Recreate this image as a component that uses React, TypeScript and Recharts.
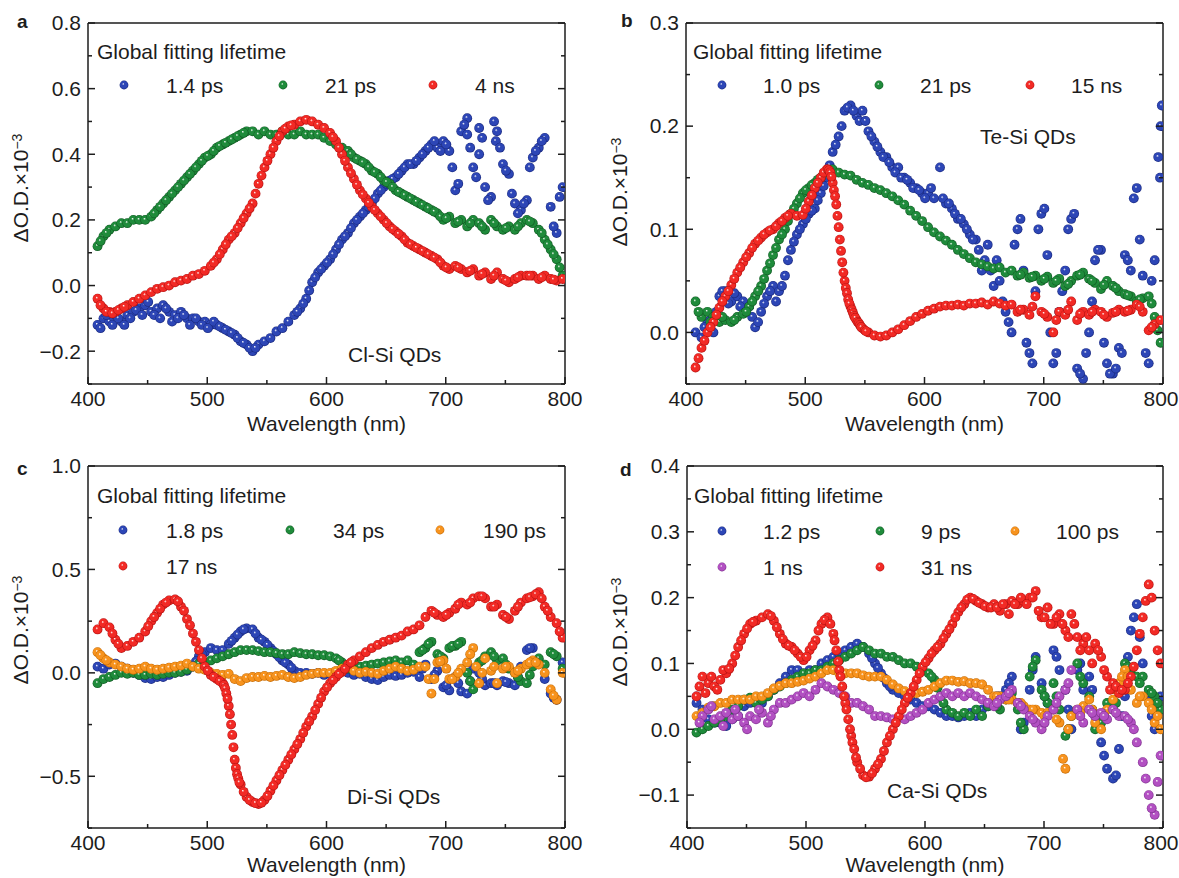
import React from 'react'
import { ScatterChart, Scatter, XAxis, YAxis } from 'recharts'

const FONT = '"Liberation Sans", Arial, Helvetica, sans-serif'
const INK = '#1d1d1d'
const FS = 21
const R = 4.9

// sampled wavelengths (nm), shared by all four panels
const wavelength = [
  408, 413, 418, 423, 428, 433, 438, 443, 448, 453,
  458, 463, 468, 473, 478, 483, 488, 493, 498, 503,
  508, 513, 518, 523, 528, 533, 538, 543, 548, 553,
  558, 563, 568, 573, 578, 583, 588, 593, 598, 603,
  608, 613, 618, 623, 628, 633, 638, 643, 648, 653,
  658, 663, 668, 673, 678, 683, 688, 693, 698, 703,
  708, 713, 718, 723, 728, 733, 738, 743, 748, 753,
  758, 763, 768, 773, 778, 783, 788, 793, 798,
]

const xTicks = [400, 450, 500, 550, 600, 650, 700, 750, 800]
const xMajor = [400, 500, 600, 700, 800]

// a: Cl-Si QDs
const clNames = ['1.4 ps', '21 ps', '4 ns']
const clBlue = [
  -0.12, -0.10, -0.11, -0.09, -0.11, -0.09, -0.08, -0.07, -0.06, -0.08,
  -0.07, -0.06, -0.08, -0.09, -0.08, -0.10, -0.10, -0.11, -0.11, -0.12,
  -0.12, -0.13, -0.14, -0.15, -0.17, -0.18, -0.20, -0.18, -0.17, -0.16,
  -0.14, -0.13, -0.11, -0.09, -0.07, -0.04, 0.01, 0.04, 0.06, 0.08,
  0.11, 0.14, 0.16, 0.19, 0.21, 0.23, 0.25, 0.28, 0.30, 0.32,
  0.33, 0.35, 0.37, 0.37, 0.39, 0.41, 0.43, 0.42, 0.44, 0.41,
  0.29, 0.47, 0.51, 0.36, 0.48, 0.30, 0.27, 0.47, 0.37, 0.34,
  0.25, 0.23, 0.26, 0.39, 0.42, 0.45, 0.24, 0.16, 0.30,
]
const clBlueFill = [
  [410.5, -0.13], [415.5, -0.09], [420.5, -0.12], [425.5, -0.1], [430.5, -0.12],
  [435.5, -0.1], [440.5, -0.075], [445.5, -0.09], [450.5, -0.05], [455.5, -0.09],
  [460.5, -0.1], [465.5, -0.07], [470.5, -0.11], [475.5, -0.1], [480.5, -0.09],
  [485.5, -0.12], [490.5, -0.1], [495.5, -0.12], [500.5, -0.13], [505.5, -0.11],
  [510.5, -0.125], [515.5, -0.135], [520.5, -0.145],
  [525.5, -0.16], [530.5, -0.175], [535.5, -0.19], [540.5, -0.19],
  [575.5, -0.08], [580.5, -0.055], [585.5, -0.015], [590.5, 0.025], [595.5, 0.05],
  [600.5, 0.07], [605.5, 0.095], [610.5, 0.125], [615.5, 0.15], [620.5, 0.175],
  [625.5, 0.2], [630.5, 0.22], [635.5, 0.24], [640.5, 0.265], [645.5, 0.29],
  [650.5, 0.31], [655.5, 0.325], [660.5, 0.34], [665.5, 0.36], [670.5, 0.37],
  [675.5, 0.38], [680.5, 0.4], [685.5, 0.42], [690.5, 0.44], [695.5, 0.41],
  [700.5, 0.43], [705.5, 0.36], [710.5, 0.31], [715.5, 0.49], [718, 0.46],
  [720.5, 0.42], [725.5, 0.33], [728, 0.4], [730.5, 0.45], [735.5, 0.26],
  [740.5, 0.5], [742, 0.44], [745.5, 0.42], [750.5, 0.35], [755.5, 0.28],
  [760.5, 0.22], [765.5, 0.25], [770.5, 0.36], [775.5, 0.41], [780.5, 0.44],
  [790.5, 0.18], [795.5, 0.27],
]
const clGreen = [
  0.12, 0.15, 0.17, 0.18, 0.19, 0.19, 0.20, 0.20, 0.20, 0.21,
  0.23, 0.25, 0.27, 0.29, 0.31, 0.33, 0.35, 0.37, 0.39, 0.40,
  0.42, 0.43, 0.44, 0.45, 0.46, 0.47, 0.47, 0.46, 0.47, 0.46,
  0.46, 0.47, 0.46, 0.46, 0.47, 0.46, 0.46, 0.46, 0.45, 0.44,
  0.43, 0.42, 0.41, 0.39, 0.38, 0.37, 0.35, 0.34, 0.32, 0.31,
  0.29, 0.28, 0.27, 0.26, 0.25, 0.24, 0.23, 0.22, 0.20, 0.21,
  0.19, 0.20, 0.18, 0.20, 0.19, 0.17, 0.20, 0.18, 0.17, 0.18,
  0.17, 0.19, 0.20, 0.19, 0.17, 0.14, 0.11, 0.08, 0.03,
]
const clGreenFill = [
  [410.5, 0.135], [415.5, 0.16], [455.5, 0.22], [460.5, 0.24], [465.5, 0.26],
  [470.5, 0.28], [475.5, 0.3], [480.5, 0.32], [485.5, 0.34], [490.5, 0.36],
  [495.5, 0.38], [500.5, 0.395], [505.5, 0.41], [510.5, 0.425], [515.5, 0.435],
  [520.5, 0.445], [525.5, 0.455], [530.5, 0.465], [620.5, 0.4], [625.5, 0.385],
  [630.5, 0.375], [635.5, 0.36], [640.5, 0.345], [645.5, 0.33], [650.5, 0.315],
  [655.5, 0.3], [660.5, 0.285], [665.5, 0.275], [670.5, 0.265], [675.5, 0.255],
  [680.5, 0.245], [685.5, 0.235], [690.5, 0.225], [695.5, 0.21], [700.5, 0.205],
  [710.5, 0.195], [720.5, 0.19], [730.5, 0.18], [740.5, 0.19], [750.5, 0.175],
  [760.5, 0.18], [770.5, 0.195], [780.5, 0.16], [785.5, 0.125], [790.5, 0.095],
  [795.5, 0.055],
]
const clRed = [
  -0.04, -0.07, -0.08, -0.08, -0.07, -0.06, -0.05, -0.04, -0.03, -0.02,
  -0.01, -0.005, 0.0, 0.01, 0.015, 0.02, 0.03, 0.035, 0.045, 0.06,
  0.08, 0.11, 0.14, 0.16, 0.19, 0.22, 0.25, 0.31, 0.36, 0.40,
  0.44, 0.47, 0.485, 0.49, 0.50, 0.505, 0.50, 0.49, 0.48, 0.465,
  0.44, 0.40, 0.36, 0.325, 0.29, 0.265, 0.24, 0.22, 0.20, 0.18,
  0.165, 0.15, 0.13, 0.12, 0.11, 0.10, 0.09, 0.08, 0.06, 0.05,
  0.06, 0.05, 0.04, 0.05, 0.03, 0.04, 0.02, 0.04, 0.02, 0.01,
  0.02, 0.03, 0.03, 0.03, 0.02, 0.03, 0.02, 0.015, 0.02,
]
const clRedFill = [
  [410.5, -0.06], [415.5, -0.08], [420.5, -0.085], [425.5, -0.075], [430.5, -0.065],
  [505.5, 0.07], [510.5, 0.095], [515.5, 0.125], [520.5, 0.15], [525.5, 0.175],
  [530.5, 0.205], [535.5, 0.235], [540.5, 0.28], [545.5, 0.335], [550.5, 0.38],
  [555.5, 0.42], [560.5, 0.455], [565.5, 0.478], [570.5, 0.488], [605.5, 0.452],
  [610.5, 0.42], [615.5, 0.38], [620.5, 0.342], [625.5, 0.307], [630.5, 0.277],
  [635.5, 0.252], [640.5, 0.23], [645.5, 0.21], [650.5, 0.19], [655.5, 0.172],
  [660.5, 0.157], [665.5, 0.14], [670.5, 0.125], [675.5, 0.115], [680.5, 0.105],
  [685.5, 0.095], [690.5, 0.085], [695.5, 0.07], [700.5, 0.055], [710.5, 0.055],
  [720.5, 0.045], [730.5, 0.035], [740.5, 0.03], [750.5, 0.015], [760.5, 0.025],
  [770.5, 0.03], [780.5, 0.025], [790.5, 0.018],
]
const yTicksA = [-0.3, -0.2, -0.1, 0, 0.1, 0.2, 0.3, 0.4, 0.5, 0.6, 0.7, 0.8]
const yMajorA = [-0.2, 0, 0.2, 0.4, 0.6, 0.8]

// b: Te-Si QDs
const teNames = ['1.0 ps', '21 ps', '15 ns']
const teBlue = [
  0.0, -0.005, 0.01, 0.0, 0.035, 0.04, 0.03, 0.035, 0.03, 0.025,
  0.005, 0.02, 0.035, 0.045, 0.04, 0.055, 0.08, 0.095, 0.105, 0.115,
  0.12, 0.135, 0.15, 0.175, 0.19, 0.215, 0.22, 0.21, 0.215, 0.195,
  0.185, 0.175, 0.17, 0.16, 0.16, 0.15, 0.145, 0.14, 0.135, 0.135,
  0.13, 0.16, 0.125, 0.12, 0.11, 0.105, 0.095, 0.09, 0.06, 0.085,
  0.045, 0.05, 0.02, 0.0, 0.10, 0.06, -0.02, 0.04, 0.115, 0.075,
  -0.03, 0.02, 0.06, 0.11, -0.035, -0.045, 0.0, 0.07, 0.08, -0.03,
  -0.04, -0.015, 0.075, 0.06, 0.14, 0.055, -0.03, 0.07, 0.2,
]
const teBlueFill = [
  [415.5, 0.005], [420.5, 0.012], [425.5, 0.02], [430.5, 0.04], [435.5, 0.028],
  [440.5, 0.038], [445.5, 0.025], [450.5, 0.02], [455.5, 0.015], [460.5, 0.01],
  [465.5, 0.028], [470.5, 0.04], [475.5, 0.03], [480.5, 0.045], [485.5, 0.07],
  [490.5, 0.088], [495.5, 0.1], [500.5, 0.11], [505.5, 0.118], [510.5, 0.128],
  [515.5, 0.142], [520.5, 0.162], [525.5, 0.182], [530.5, 0.2], [535.5, 0.218],
  [540.5, 0.215], [545.5, 0.205], [550.5, 0.205], [555.5, 0.19], [560.5, 0.18],
  [565.5, 0.17], [570.5, 0.165], [575.5, 0.155], [580.5, 0.15], [585.5, 0.148],
  [590.5, 0.14], [595.5, 0.138], [600.5, 0.13], [605.5, 0.14], [615.5, 0.13],
  [620.5, 0.125], [625.5, 0.115], [630.5, 0.11], [635.5, 0.1], [640.5, 0.09],
  [645.5, 0.08], [650.5, 0.07], [655.5, 0.06], [660.5, 0.07], [665.5, 0.03],
  [670.5, 0.01], [675.5, 0.085], [680.5, 0.11], [685.5, -0.01], [690.5, -0.03],
  [695.5, 0.1], [700.5, 0.12], [705.5, 0.0], [710.5, -0.02], [715.5, 0.04],
  [720.5, 0.1], [725.5, 0.115], [730.5, -0.04], [735.5, -0.02], [740.5, 0.03],
  [745.5, 0.08], [750.5, -0.01], [755.5, -0.04], [760.5, -0.035], [765.5, -0.02],
  [770.5, 0.07], [775.5, 0.13], [780.5, 0.09], [785.5, -0.02], [790.5, 0.05],
  [796, 0.17], [797.5, 0.15], [799, 0.22],
]
const teGreen = [
  0.03, 0.015, 0.02, 0.015, 0.01, 0.012, 0.01, 0.015, 0.018, 0.025,
  0.035, 0.045, 0.06, 0.075, 0.09, 0.10, 0.115, 0.125, 0.135, 0.14,
  0.145, 0.15, 0.155, 0.158, 0.155, 0.153, 0.152, 0.148, 0.145, 0.143,
  0.14, 0.138, 0.135, 0.132, 0.128, 0.124, 0.118, 0.113, 0.108, 0.102,
  0.097, 0.093, 0.089, 0.085, 0.08, 0.076, 0.072, 0.068, 0.066, 0.064,
  0.062, 0.063, 0.058, 0.06, 0.055, 0.058, 0.053, 0.055, 0.05, 0.054,
  0.048, 0.052, 0.045, 0.05, 0.055, 0.058, 0.052, 0.048, 0.042, 0.05,
  0.045, 0.04, 0.037, 0.035, 0.03, 0.033, 0.035, 0.015, -0.01,
]
const teGreenFill = [
  [410.5, 0.02], [420.5, 0.01], [430.5, 0.015], [440.5, 0.012], [450.5, 0.02],
  [455.5, 0.03], [460.5, 0.04], [465.5, 0.052], [470.5, 0.067], [475.5, 0.082],
  [480.5, 0.095], [485.5, 0.108], [490.5, 0.12], [495.5, 0.13], [500.5, 0.138],
  [505.5, 0.143], [510.5, 0.148], [680.5, 0.056], [690.5, 0.054], [700.5, 0.052],
  [710.5, 0.05], [720.5, 0.047], [730.5, 0.056], [740.5, 0.05], [750.5, 0.046],
  [760.5, 0.043], [770.5, 0.036], [780.5, 0.032], [790.5, 0.028], [795.5, 0.002],
]
const teRed = [
  -0.034, -0.015, 0.0, 0.01, 0.024, 0.035, 0.046, 0.058, 0.068, 0.077,
  0.086, 0.092, 0.097, 0.1, 0.106, 0.111, 0.115, 0.113, 0.114, 0.127,
  0.14, 0.15, 0.158, 0.145, 0.102, 0.05, 0.025, 0.012, 0.004, 0.0,
  -0.003, -0.004, -0.003, 0.0, 0.003, 0.007, 0.011, 0.015, 0.018, 0.021,
  0.023, 0.025, 0.026, 0.026, 0.027, 0.026, 0.028, 0.028, 0.029, 0.027,
  0.03, 0.028, 0.026, 0.027, 0.02, 0.022, 0.017, 0.035, 0.02, 0.015,
  0.0, 0.02, 0.017, 0.03, 0.012, 0.02, 0.017, 0.022, 0.02, 0.015,
  0.019, 0.022, 0.02, 0.022, 0.027, 0.02, 0.002, 0.008, 0.012,
]
const teRedFill = [
  [410.5, -0.025], [415.5, -0.008], [420.5, 0.005], [425.5, 0.017], [430.5, 0.03],
  [435.5, 0.04], [440.5, 0.052], [445.5, 0.063], [450.5, 0.073], [455.5, 0.082],
  [460.5, 0.089], [465.5, 0.095], [470.5, 0.099], [475.5, 0.103], [480.5, 0.108],
  [485.5, 0.113], [500.5, 0.12], [505.5, 0.133], [510.5, 0.145], [515.5, 0.155],
  [519, 0.158], [520, 0.157], [521, 0.155], [522, 0.151], [524, 0.138], [525, 0.132],
  [526, 0.124], [527, 0.113], [529, 0.09], [530, 0.079], [531, 0.068], [532, 0.058],
  [534, 0.043], [535, 0.038], [536, 0.032], [537, 0.028], [539, 0.022], [540, 0.019],
  [541, 0.016], [542, 0.014], [544, 0.01], [545, 0.009], [546, 0.007], [547, 0.005],
  [550, 0.002], [551, 0.001], [680.5, 0.022], [690.5, 0.025], [700.5, 0.018],
  [710.5, 0.012], [720.5, 0.022], [730.5, 0.018], [740.5, 0.02], [750.5, 0.017],
  [760.5, 0.02], [770.5, 0.021], [780.5, 0.025], [790.5, 0.005],
]
const yTicksB = [-0.05, 0, 0.05, 0.1, 0.15, 0.2, 0.25, 0.3]
const yMajorB = [0, 0.1, 0.2, 0.3]

// c: Di-Si QDs
const diNames = ['1.8 ps', '34 ps', '190 ps', '17 ns']
const diBlue = [
  0.03, 0.02, 0.04, 0.045, 0.03, 0.02, 0.0, -0.01, -0.025, -0.03,
  -0.02, -0.02, -0.01, 0.0, 0.005, 0.01, 0.03, 0.08, 0.10, 0.12,
  0.11, 0.11, 0.14, 0.17, 0.2, 0.215, 0.21, 0.17, 0.15, 0.12,
  0.09, 0.06, 0.04, 0.01, 0.0, 0.0, -0.005, 0.0, -0.01, -0.005,
  0.0, 0.005, 0.0, -0.01, -0.005, -0.02, -0.03, -0.035, -0.02, -0.01,
  -0.015, -0.01, 0.0, 0.005, -0.02, 0.04, -0.03, 0.01, -0.07, -0.085,
  -0.02, -0.09, -0.1, 0.02, 0.0, -0.06, -0.05, -0.06, -0.04, -0.05,
  -0.06, 0.03, 0.11, 0.12, 0.06, -0.03, -0.1, -0.13, 0.05,
]
const diBlueFill = [
  [490.5, 0.055], [495.5, 0.09], [520.5, 0.155], [525.5, 0.185], [530.5, 0.21],
  [540.5, 0.19], [545.5, 0.16], [550.5, 0.135], [555.5, 0.105], [560.5, 0.075],
  [565.5, 0.05], [570.5, 0.025], [680.5, 0.02], [690.5, -0.01], [700.5, -0.06],
  [710.5, -0.05], [720.5, -0.04], [730.5, -0.03], [740.5, -0.05], [750.5, -0.045],
  [760.5, -0.02], [770.5, 0.12], [790.5, -0.12],
]
const diGreen = [
  -0.05, -0.03, -0.02, -0.01, 0.0, -0.005, 0.0, -0.01, -0.01, -0.005,
  -0.01, -0.005, 0.0, 0.0, 0.005, 0.015, 0.03, 0.045, 0.05, 0.06,
  0.07, 0.08, 0.09, 0.1, 0.11, 0.11, 0.11, 0.105, 0.1, 0.1,
  0.095, 0.09, 0.09, 0.1, 0.095, 0.09, 0.09, 0.085, 0.085, 0.08,
  0.07, 0.05, 0.02, 0.02, 0.03, 0.035, 0.04, 0.045, 0.05, 0.055,
  0.06, 0.05, 0.06, 0.04, 0.1, 0.12, 0.15, 0.09, 0.07, 0.12,
  0.13, 0.15, 0.0, -0.08, 0.05, 0.08, 0.1, 0.06, 0.07, 0.02,
  0.0, -0.04, -0.05, 0.03, 0.07, 0.04, 0.1, 0.08, 0.02,
]
const diGreenFill = [
  [610.5, 0.06], [615.5, 0.035], [680.5, 0.11], [685.5, 0.14], [695.5, 0.08],
  [705.5, 0.13], [710.5, 0.14], [720.5, -0.04], [730.5, 0.06], [740.5, 0.08],
  [750.5, 0.04], [760.5, -0.02], [770.5, -0.01], [775.5, 0.05], [790.5, 0.09],
]
const diOrange = [
  0.1, 0.07, 0.05, 0.04, 0.03, 0.02, 0.015, 0.02, 0.03, 0.02,
  0.015, 0.02, 0.025, 0.03, 0.035, 0.045, 0.03, 0.02, 0.015, 0.0,
  -0.005, -0.01, -0.005, -0.03, -0.04, -0.025, -0.02, -0.02, -0.015, -0.02,
  -0.015, -0.01, -0.02, -0.025, -0.02, -0.01, -0.005, 0.0, 0.0, 0.0,
  0.01, 0.02, 0.03, 0.01, 0.0, 0.005, 0.0, -0.005, 0.01, 0.02,
  0.03, 0.02, 0.01, 0.015, 0.03, 0.03, -0.1, 0.05, 0.06, -0.03,
  -0.02, 0.02, 0.05, 0.12, -0.05, 0.07, 0.01, -0.05, 0.02, 0.03,
  0.0, 0.02, 0.04, 0.06, 0.04, 0.0, -0.08, -0.13, 0.0,
]
const diOrangeFill = [
  [410.5, 0.085], [415.5, 0.06], [685.5, -0.03], [690.5, -0.03], [695.5, 0.055],
  [700.5, 0.02], [705.5, -0.03], [710.5, 0.0], [720.5, 0.09], [725.5, 0.03],
  [730.5, 0.0], [740.5, 0.03], [750.5, 0.03], [760.5, 0.01], [770.5, 0.05],
  [775.5, 0.05], [790.5, -0.11],
]
const diRed = [
  0.21, 0.24, 0.22, 0.16, 0.12, 0.13, 0.15, 0.17, 0.2, 0.25,
  0.29, 0.33, 0.35, 0.355, 0.32, 0.26, 0.19, 0.11, 0.03, -0.01,
  -0.03, -0.05, -0.16, -0.42, -0.54, -0.6, -0.625, -0.634, -0.615, -0.57,
  -0.52, -0.47, -0.42, -0.37, -0.32, -0.26, -0.21, -0.15, -0.09, -0.05,
  -0.02, 0.005, 0.04, 0.06, 0.08, 0.1, 0.12, 0.135, 0.15, 0.16,
  0.17, 0.18, 0.2, 0.21, 0.23, 0.27, 0.3, 0.28, 0.27, 0.29,
  0.31, 0.34, 0.33, 0.36, 0.37, 0.36, 0.32, 0.33, 0.28, 0.26,
  0.3, 0.34, 0.36, 0.37, 0.39, 0.32, 0.27, 0.24, 0.17,
]
const diRedFill = [
  [420.5, 0.19], [425.5, 0.14], [450.5, 0.225], [455.5, 0.27], [460.5, 0.31],
  [465.5, 0.34], [475.5, 0.345], [480.5, 0.3], [485.5, 0.23], [490.5, 0.15],
  [495.5, 0.07], [500.5, 0.01], [505.5, -0.02], [510.5, -0.04], [514, -0.06],
  [515, -0.075], [516, -0.1], [517, -0.125], [519, -0.2], [520, -0.25], [521, -0.3],
  [522, -0.36], [524, -0.46], [525, -0.49], [526, -0.51], [527, -0.53], [530.5, -0.575],
  [535.5, -0.615], [540.5, -0.63], [545.5, -0.628], [550.5, -0.595], [555.5, -0.545],
  [560.5, -0.495], [565.5, -0.445], [570.5, -0.395], [575.5, -0.345], [580.5, -0.29],
  [585.5, -0.235], [590.5, -0.18], [595.5, -0.12], [600.5, -0.07], [605.5, -0.035],
  [610.5, -0.005], [615.5, 0.02], [620.5, 0.05], [690.5, 0.29], [700.5, 0.28],
  [710.5, 0.33], [720.5, 0.34], [730.5, 0.37], [740.5, 0.32], [750.5, 0.27],
  [760.5, 0.32], [770.5, 0.365], [775.5, 0.38], [780.5, 0.36], [785.5, 0.3],
  [795.5, 0.2],
]
const yTicksC = [-0.75, -0.5, -0.25, 0, 0.25, 0.5, 0.75, 1.0]
const yMajorC = [-0.5, 0, 0.5, 1.0]

// d: Ca-Si QDs
const caNames = ['1.2 ps', '9 ps', '100 ps', '1 ns', '31 ns']
const caBlue = [
  0.04, 0.03, 0.015, 0.01, 0.01, 0.005, 0.015, 0.02, 0.035, 0.04,
  0.045, 0.04, 0.05, 0.06, 0.07, 0.08, 0.09, 0.09, 0.085, 0.09,
  0.09, 0.1, 0.105, 0.11, 0.115, 0.12, 0.125, 0.13, 0.125, 0.115,
  0.1, 0.085, 0.07, 0.06, 0.055, 0.05, 0.045, 0.04, 0.035, 0.035,
  0.03, 0.025, 0.02, 0.02, 0.018, 0.02, 0.025, 0.02, 0.03, 0.035,
  0.04, 0.05, 0.06, 0.08, 0.04, 0.01, 0.06, 0.11, 0.07, 0.04,
  0.12, 0.09, 0.06, 0.0, 0.09, 0.06, 0.08, 0.02, -0.02, -0.06,
  -0.075, -0.03, 0.05, 0.15, 0.19, 0.1, 0.05, 0.0, 0.05,
]
const caBlueFill = [
  [555.5, 0.108], [560.5, 0.093], [565.5, 0.078], [570.5, 0.065], [660.5, 0.05],
  [670.5, 0.07], [680.5, 0.0], [690.5, 0.09], [700.5, 0.05], [710.5, 0.11],
  [720.5, 0.03], [730.5, 0.1], [740.5, 0.06], [750.5, -0.04], [760.5, -0.07],
  [765.5, 0.02], [770.5, 0.11], [775.5, 0.17], [780.5, 0.14], [790.5, 0.02],
  [795.5, 0.03],
]
const caGreen = [
  -0.005, 0.0, 0.005, 0.01, 0.015, 0.02, 0.03, 0.035, 0.045, 0.048,
  0.04, 0.045, 0.05, 0.06, 0.065, 0.07, 0.075, 0.08, 0.085, 0.085,
  0.09, 0.09, 0.095, 0.1, 0.105, 0.11, 0.115, 0.12, 0.125, 0.12,
  0.115, 0.115, 0.11, 0.11, 0.105, 0.1, 0.1, 0.095, 0.09, 0.085,
  0.075, 0.05, 0.03, 0.025, 0.02, 0.025, 0.02, 0.03, 0.02, 0.035,
  0.04, 0.03, 0.045, 0.055, 0.03, 0.0, 0.08, 0.105, 0.06, 0.04,
  0.07, 0.03, -0.01, 0.02, 0.1, 0.07, 0.05, 0.0, 0.01, 0.04,
  0.03, 0.06, 0.1, 0.09, 0.08, 0.08, 0.06, 0.05, 0.03,
]
const caGreenFill = [
  [605.5, 0.08], [610.5, 0.063], [615.5, 0.04], [660.5, 0.035], [670.5, 0.05],
  [680.5, 0.01], [690.5, 0.095], [700.5, 0.05], [710.5, 0.05], [720.5, 0.0],
  [730.5, 0.08], [740.5, 0.03], [750.5, 0.02], [760.5, 0.04], [770.5, 0.095],
  [780.5, 0.07], [790.5, 0.055], [795.5, 0.04],
]
const caOrange = [
  0.02, 0.025, 0.033, 0.035, 0.04, 0.04, 0.045, 0.045, 0.045, 0.045,
  0.05, 0.05, 0.055, 0.062, 0.066, 0.07, 0.07, 0.072, 0.074, 0.077,
  0.08, 0.085, 0.09, 0.09, 0.085, 0.085, 0.085, 0.085, 0.082, 0.08,
  0.08, 0.08, 0.075, 0.068, 0.062, 0.058, 0.054, 0.055, 0.057, 0.06,
  0.065, 0.07, 0.074, 0.074, 0.072, 0.073, 0.07, 0.07, 0.068, 0.06,
  0.05, 0.05, 0.045, 0.045, 0.04, 0.035, 0.03, 0.03, 0.025, 0.025,
  0.03, 0.01, -0.06, 0.02, 0.03, 0.035, 0.045, 0.01, 0.0, 0.03,
  0.045, 0.07, 0.09, 0.06, 0.04, 0.05, 0.04, 0.01, 0.0,
]
const caOrangeFill = [
  [660.5, 0.05], [670.5, 0.045], [680.5, 0.04], [690.5, 0.03], [700.5, 0.02],
  [710.5, 0.015], [716, -0.045], [720.5, 0.0], [730.5, 0.025], [740.5, 0.03],
  [750.5, 0.02], [760.5, 0.06], [765.5, 0.08], [770.5, 0.08], [780.5, 0.05],
  [790.5, 0.03], [795.5, 0.02],
]
const caPurple = [
  0.05, 0.02, 0.03, 0.015, 0.02, 0.025, 0.015, 0.02, 0.01, 0.02,
  0.015, 0.025, 0.01, 0.03, 0.04, 0.04, 0.045, 0.05, 0.055, 0.05,
  0.06, 0.07, 0.065, 0.06, 0.055, 0.05, 0.04, 0.04, 0.035, 0.03,
  0.02, 0.02, 0.018, 0.015, 0.018, 0.015, 0.02, 0.025, 0.03, 0.04,
  0.045, 0.05, 0.055, 0.05, 0.055, 0.05, 0.055, 0.05, 0.045, 0.04,
  0.035, 0.045, 0.05, 0.06, 0.04, 0.03, 0.02, 0.01, 0.0, 0.02,
  0.03, 0.05, 0.06, 0.09, 0.03, 0.01, 0.03, 0.02, 0.025, 0.015,
  0.03, 0.02, 0.02, 0.01, -0.02, -0.05, -0.1, -0.13, -0.04,
]
const caPurpleFill = [
  [410.5, 0.01], [420.5, 0.035], [430.5, 0.005], [440.5, 0.03], [450.5, 0.0],
  [460.5, 0.03], [470.5, 0.02], [660.5, 0.04], [670.5, 0.055], [680.5, 0.035],
  [690.5, 0.015], [700.5, 0.01], [710.5, 0.04], [720.5, 0.07], [730.5, 0.02],
  [740.5, 0.025], [750.5, 0.02], [760.5, 0.025], [770.5, 0.015], [775.5, 0.0],
  [785.5, -0.075], [790.5, -0.12], [795.5, -0.08],
]
const caRed = [
  0.05, 0.08, 0.07, 0.065, 0.075, 0.085, 0.1, 0.125, 0.145, 0.16,
  0.165, 0.17, 0.175, 0.165, 0.145, 0.13, 0.125, 0.115, 0.105, 0.12,
  0.135, 0.16, 0.17, 0.145, 0.09, 0.04, -0.01, -0.05, -0.07, -0.072,
  -0.06, -0.045, -0.02, 0.0, 0.02, 0.04, 0.055, 0.075, 0.095, 0.108,
  0.12, 0.13, 0.145, 0.16, 0.178, 0.19, 0.2, 0.195, 0.19, 0.185,
  0.19, 0.18, 0.19, 0.195, 0.19, 0.195, 0.2, 0.21, 0.17, 0.185,
  0.16, 0.175, 0.15, 0.175, 0.14, 0.13, 0.12, 0.13, 0.11, 0.08,
  0.07, 0.055, 0.06, 0.08, 0.12, 0.17, 0.22, 0.15, 0.1,
]
const caRedFill = [
  [410.5, 0.065], [415.5, 0.055], [420.5, 0.08], [425.5, 0.06],
  [430.5, 0.09], [435.5, 0.092], [440.5, 0.112], [445.5, 0.135], [450.5, 0.153],
  [455.5, 0.163], [470.5, 0.172], [475.5, 0.155], [480.5, 0.137], [485.5, 0.127],
  [490.5, 0.12], [495.5, 0.11], [500.5, 0.11], [505.5, 0.127], [510.5, 0.15],
  [515.5, 0.166], [520.5, 0.16], [524, 0.135], [525.5, 0.12], [527, 0.103], [529, 0.08],
  [530.5, 0.065], [532, 0.05], [534, 0.03], [535.5, 0.015], [537, 0.0], [539, -0.02],
  [540.5, -0.03], [542, -0.043], [545.5, -0.06], [550.5, -0.073], [555.5, -0.067],
  [560.5, -0.053], [565.5, -0.033], [570.5, -0.01], [575.5, 0.01], [580.5, 0.03],
  [585.5, 0.048], [590.5, 0.065], [595.5, 0.085], [600.5, 0.102], [605.5, 0.115],
  [610.5, 0.125], [615.5, 0.138], [620.5, 0.152], [625.5, 0.17], [630.5, 0.185],
  [635.5, 0.197], [640.5, 0.198], [645.5, 0.192], [650.5, 0.187], [655.5, 0.185],
  [660.5, 0.185], [665.5, 0.19], [670.5, 0.175], [675.5, 0.19], [680.5, 0.2],
  [685.5, 0.19], [690.5, 0.2], [695.5, 0.18], [700.5, 0.17], [705.5, 0.16],
  [710.5, 0.17], [715.5, 0.16], [720.5, 0.14], [725.5, 0.16], [730.5, 0.12],
  [735.5, 0.14], [740.5, 0.1], [745.5, 0.12], [750.5, 0.09], [755.5, 0.06],
  [760.5, 0.065], [765.5, 0.06], [770.5, 0.07], [775.5, 0.095], [780.5, 0.145],
  [785.5, 0.195], [790.5, 0.2], [795.5, 0.12],
]
const yTicksD = [-0.15, -0.1, -0.05, 0, 0.05, 0.1, 0.15, 0.2, 0.25, 0.3, 0.35, 0.4]
const yMajorD = [-0.1, 0, 0.1, 0.2, 0.3, 0.4]

const COLORS: Record<string, [string, string]> = {
  blue: ['#2d46b6', '#16257a'],
  green: ['#1f8b3b', '#0e5620'],
  red: ['#f22a25', '#b30f0f'],
  orange: ['#f7931e', '#c26700'],
  purple: ['#b250c2', '#7a2b8a'],
}

type Series = { name: string; color: string; values: number[]; fill: number[][] }

const isMajor = (v: number, list: number[]) => list.some((m) => Math.abs(m - v) < 1e-9)
const fmt = (v: number) => (v < -1e-9 ? '\u2212' : '') + Math.abs(v).toFixed(1)
const toPoints = (values: number[], fill: number[][]) => [
  ...wavelength.map((x, i) => ({ x, y: values[i] })),
  ...fill.map(([x, y]) => ({ x, y })),
]

function tickFn(side: 'bottom' | 'top' | 'left' | 'right', major: number[], chartWidth = 0) {
  return (p: any) => {
    const { x, y, payload } = p
    const v = payload.value
    const big = isMajor(v, major)
    const len = big ? 7 : 4
    const line = { stroke: INK, strokeWidth: 1.5 }
    if (side === 'bottom') {
      // keep the last label inside the page edge
      const tx = Math.min(x, chartWidth - 18)
      return (
        <g>
          <line x1={x} y1={y} x2={x} y2={y - len} {...line} />
          {big && (
            <text x={tx} y={y + 22} textAnchor="middle" fill={INK} fontSize={FS}>
              {v}
            </text>
          )}
        </g>
      )
    }
    if (side === 'top') return <line x1={x} y1={y} x2={x} y2={y + len} {...line} />
    if (side === 'right') return <line x1={x} y1={y} x2={x - len} y2={y} {...line} />
    return (
      <g>
        <line x1={x} y1={y} x2={x + len} y2={y} {...line} />
        {big && (
          <text x={x - 7} y={y} dy="0.35em" textAnchor="end" fill={INK} fontSize={FS}>
            {fmt(v)}
          </text>
        )}
      </g>
    )
  }
}

const ballShape = (color: string) => (p: any) =>
  <circle cx={p.cx} cy={p.cy} r={R} fill={`url(#ball-${color})`} />

interface PanelProps {
  left: number
  top: number
  width: number
  height: number
  margin: { top: number; right: number; bottom: number; left: number }
  yDomain: [number, number]
  yTicks: number[]
  yMajor: number[]
  labelOffset: number
  series: Series[]
}

function Panel({ left, top, width, height, margin, yDomain, yTicks, yMajor, labelOffset, series }: PanelProps) {
  const axisLine = { stroke: INK, strokeWidth: 1.5 }
  return (
    <div style={{ position: 'absolute', left, top }}>
      <ScatterChart width={width} height={height} margin={margin}>
        <XAxis
          dataKey="x"
          type="number"
          domain={[400, 800]}
          ticks={xTicks}
          interval={0}
          allowDataOverflow
          tickLine={false}
          tickSize={0}
          tickMargin={0}
          axisLine={axisLine}
          height={50}
          tick={tickFn('bottom', xMajor, width)}
          label={{ value: 'Wavelength (nm)', position: 'insideBottom', offset: labelOffset, fill: INK, fontSize: FS }}
        />
        <XAxis
          xAxisId="top"
          orientation="top"
          type="number"
          domain={[400, 800]}
          ticks={xTicks}
          interval={0}
          allowDataOverflow
          tickLine={false}
          tickSize={0}
          tickMargin={0}
          axisLine={axisLine}
          height={5}
          tick={tickFn('top', xMajor)}
        />
        <YAxis
          dataKey="y"
          type="number"
          domain={yDomain}
          ticks={yTicks}
          interval={0}
          allowDataOverflow
          tickLine={false}
          tickSize={0}
          tickMargin={0}
          axisLine={axisLine}
          width={60}
          tick={tickFn('left', yMajor)}
        />
        <YAxis
          yAxisId="right"
          orientation="right"
          type="number"
          domain={yDomain}
          ticks={yTicks}
          interval={0}
          allowDataOverflow
          tickLine={false}
          tickSize={0}
          tickMargin={0}
          axisLine={axisLine}
          width={5}
          tick={tickFn('right', yMajor)}
        />
        {series.map((s) => (
          <Scatter
            key={s.name}
            name={s.name}
            data={toPoints(s.values, s.fill)}
            shape={ballShape(s.color)}
            isAnimationActive={false}
          />
        ))}
      </ScatterChart>
    </div>
  )
}

function Ball({ cx, cy, color }: { cx: number; cy: number; color: string }) {
  return <circle cx={cx} cy={cy} r={4.4} fill={`url(#ball-${color})`} />
}

function YTitle({ x, y }: { x: number; y: number }) {
  return (
    <text transform={`translate(${x},${y}) rotate(-90)`} textAnchor="middle" fill={INK} fontSize={FS}>
      ΔO.D.×10
      <tspan dy={-6} fontSize={14}>
        −3
      </tspan>
    </text>
  )
}

interface LegendProps {
  title: [number, number]
  cols: number[]
  rows: number[]
  gap: number
  items: { name: string; color: string; col: number; row: number }[]
}

function LegendBlock({ title, cols, rows, gap, items }: LegendProps) {
  return (
    <g>
      <text x={title[0]} y={title[1]} fill={INK} fontSize={FS}>
        Global fitting lifetime
      </text>
      {items.map((it) => (
        <g key={it.name}>
          <Ball cx={cols[it.col]} cy={rows[it.row]} color={it.color} />
          <text x={cols[it.col] + gap} y={rows[it.row] + 8} fill={INK} fontSize={FS}>
            {it.name}
          </text>
        </g>
      ))}
    </g>
  )
}

const seriesA: Series[] = [
  { name: clNames[0], color: 'blue', values: clBlue, fill: clBlueFill },
  { name: clNames[1], color: 'green', values: clGreen, fill: clGreenFill },
  { name: clNames[2], color: 'red', values: clRed, fill: clRedFill },
]
const seriesB: Series[] = [
  { name: teNames[0], color: 'blue', values: teBlue, fill: teBlueFill },
  { name: teNames[1], color: 'green', values: teGreen, fill: teGreenFill },
  { name: teNames[2], color: 'red', values: teRed, fill: teRedFill },
]
const seriesC: Series[] = [
  { name: diNames[0], color: 'blue', values: diBlue, fill: diBlueFill },
  { name: diNames[1], color: 'green', values: diGreen, fill: diGreenFill },
  { name: diNames[2], color: 'orange', values: diOrange, fill: diOrangeFill },
  { name: diNames[3], color: 'red', values: diRed, fill: diRedFill },
]
const seriesD: Series[] = [
  { name: caNames[0], color: 'blue', values: caBlue, fill: caBlueFill },
  { name: caNames[1], color: 'green', values: caGreen, fill: caGreenFill },
  { name: caNames[2], color: 'orange', values: caOrange, fill: caOrangeFill },
  { name: caNames[3], color: 'purple', values: caPurple, fill: caPurpleFill },
  { name: caNames[4], color: 'red', values: caRed, fill: caRedFill },
]

export default function App() {
  return (
    <div
      style={{
        position: 'absolute',
        left: 0,
        top: 0,
        width: 1179,
        height: 878,
        background: '#ffffff',
        fontFamily: FONT,
        overflow: 'hidden',
      }}
    >
      <Panel
        left={0}
        top={0}
        width={600}
        height={440}
        margin={{ top: 18, right: 30, bottom: 6, left: 28 }}
        yDomain={[-0.3, 0.8]}
        yTicks={yTicksA}
        yMajor={yMajorA}
        labelOffset={3}
        series={seriesA}
      />
      <Panel
        left={600}
        top={0}
        width={579}
        height={440}
        margin={{ top: 18, right: 11, bottom: 6, left: 26 }}
        yDomain={[-0.05, 0.3]}
        yTicks={yTicksB}
        yMajor={yMajorB}
        labelOffset={3}
        series={seriesB}
      />
      <Panel
        left={0}
        top={440}
        width={600}
        height={438}
        margin={{ top: 21, right: 30, bottom: 0, left: 28 }}
        yDomain={[-0.75, 1.0]}
        yTicks={yTicksC}
        yMajor={yMajorC}
        labelOffset={6}
        series={seriesC}
      />
      <Panel
        left={600}
        top={440}
        width={579}
        height={438}
        margin={{ top: 21, right: 11, bottom: 0, left: 27 }}
        yDomain={[-0.15, 0.4]}
        yTicks={yTicksD}
        yMajor={yMajorD}
        labelOffset={6}
        series={seriesD}
      />
      <svg
        width={1179}
        height={878}
        style={{ position: 'absolute', left: 0, top: 0, pointerEvents: 'none' }}
      >
        <defs>
          {Object.entries(COLORS).map(([k, [base, dark]]) => (
            <radialGradient key={k} id={`ball-${k}`} cx="0.5" cy="0.5" r="0.5" fx="0.4" fy="0.36">
              <stop offset="0" stopColor="#ffffff" />
              <stop offset="0.28" stopColor={base} />
              <stop offset="0.78" stopColor={base} />
              <stop offset="1" stopColor={dark} />
            </radialGradient>
          ))}
        </defs>

        <g fontWeight="bold" fontSize={19} fill={INK}>
          <text x={17} y={28}>a</text>
          <text x={621} y={27}>b</text>
          <text x={17} y={475}>c</text>
          <text x={620} y={476}>d</text>
        </g>

        <YTitle x={28} y={188} />
        <YTitle x={627} y={192} />
        <YTitle x={28} y={630} />
        <YTitle x={627} y={632} />

        <g fill={INK} fontSize={FS}>
          <text x={348} y={362}>Cl-Si QDs</text>
          <text x={980} y={144}>Te-Si QDs</text>
          <text x={347} y={804}>Di-Si QDs</text>
          <text x={887} y={798}>Ca-Si QDs</text>
        </g>

        <LegendBlock
          title={[97, 59]}
          cols={[124, 283, 433]}
          rows={[85]}
          gap={42}
          items={seriesA.map((s, i) => ({ name: s.name, color: s.color, col: i, row: 0 }))}
        />
        <LegendBlock
          title={[693, 59]}
          cols={[722, 879, 1030]}
          rows={[85]}
          gap={41}
          items={seriesB.map((s, i) => ({ name: s.name, color: s.color, col: i, row: 0 }))}
        />
        <LegendBlock
          title={[97, 503]}
          cols={[123, 290, 440]}
          rows={[530, 566]}
          gap={43}
          items={seriesC.map((s, i) => ({ name: s.name, color: s.color, col: i % 3, row: i < 3 ? 0 : 1 }))}
        />
        <LegendBlock
          title={[694, 503]}
          cols={[722, 880, 1015]}
          rows={[531, 567]}
          gap={41}
          items={seriesD.map((s, i) => ({ name: s.name, color: s.color, col: i % 3, row: i < 3 ? 0 : 1 }))}
        />
      </svg>
    </div>
  )
}
